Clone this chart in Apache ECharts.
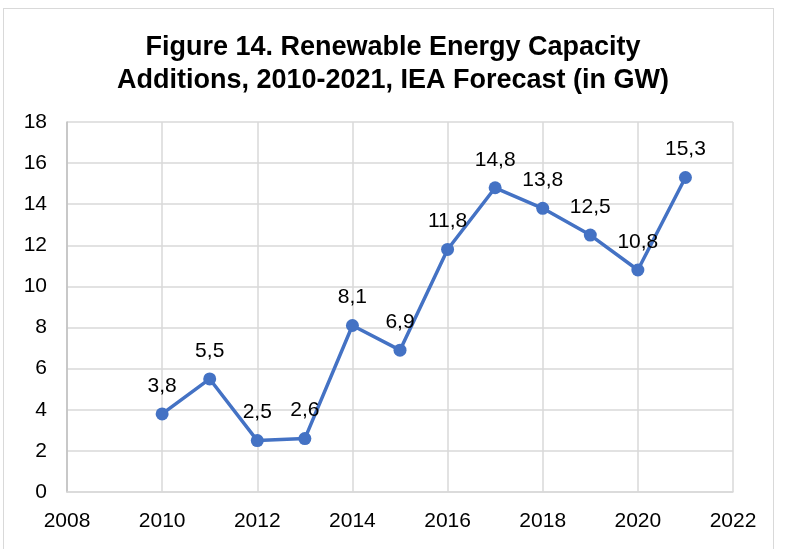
<!DOCTYPE html>
<html>
<head>
<meta charset="utf-8">
<script src="https://cdn.jsdelivr.net/npm/echarts@6/dist/echarts.min.js"></script>
<style>
  html, body { margin: 0; padding: 0; background: #fff; }
  #frame { position: absolute; left: 3px; top: 8px; width: 771px; height: 560px; border: 1px solid #d9d9d9; box-sizing: border-box; }
  #chart { position: absolute; left: 0; top: 0; width: 786px; height: 549px; }
</style>
</head>
<body>
<div id="frame"></div>
<div id="chart"></div>
<script>
// renewable capacity additions, GW
const years = [2010, 2011, 2012, 2013, 2014, 2015, 2016, 2017, 2018, 2019, 2020, 2021]
const capacity = [3.8, 5.5, 2.5, 2.6, 8.1, 6.9, 11.8, 14.8, 13.8, 12.5, 10.8, 15.3]

const chart = echarts.init(document.getElementById('chart'))
const font = 'Liberation Sans, Arial, sans-serif'

chart.setOption({
  animation: false,
  title: {
    text: 'Figure 14. Renewable Energy Capacity\nAdditions, 2010-2021, IEA Forecast (in GW)',
    left: 'center',
    top: 26,
    textStyle: {
      fontFamily: font,
      fontSize: 27,
      fontWeight: 'bold',
      color: '#000',
      lineHeight: 33
    }
  },
  grid: {
    left: 67,
    right: 53,
    top: 122,
    bottom: 57
  },
  xAxis: {
    type: 'value',
    min: 2008,
    max: 2022,
    interval: 2,
    axisLine: { show: true, lineStyle: { color: '#d9d9d9', width: 1.5 } },
    axisTick: { show: false },
    splitLine: { show: true, lineStyle: { color: '#d9d9d9', width: 1.5 } },
    axisLabel: {
      color: '#000',
      fontFamily: font,
      fontSize: 21,
      margin: 19,
      formatter: v => String(v)
    }
  },
  yAxis: {
    type: 'value',
    min: 0,
    max: 18,
    interval: 2,
    axisLine: { show: true, lineStyle: { color: '#bfbfbf', width: 1.5 } },
    axisTick: { show: false },
    splitLine: { show: true, lineStyle: { color: '#d9d9d9', width: 1.5 } },
    axisLabel: {
      color: '#000',
      fontFamily: font,
      fontSize: 21,
      margin: 20
    }
  },
  series: [{
    type: 'line',
    data: years.map((y, i) => [y, capacity[i]]),
    symbol: 'circle',
    symbolSize: 13,
    lineStyle: { color: '#4472C4', width: 3.5 },
    itemStyle: { color: '#4472C4' },
    label: {
      show: true,
      position: 'top',
      distance: 11,
      color: '#000',
      fontFamily: font,
      fontSize: 21,
      formatter: p => String(p.value[1].toFixed(1)).replace('.', ',')
    }
  }]
})
</script>
</body>
</html>
